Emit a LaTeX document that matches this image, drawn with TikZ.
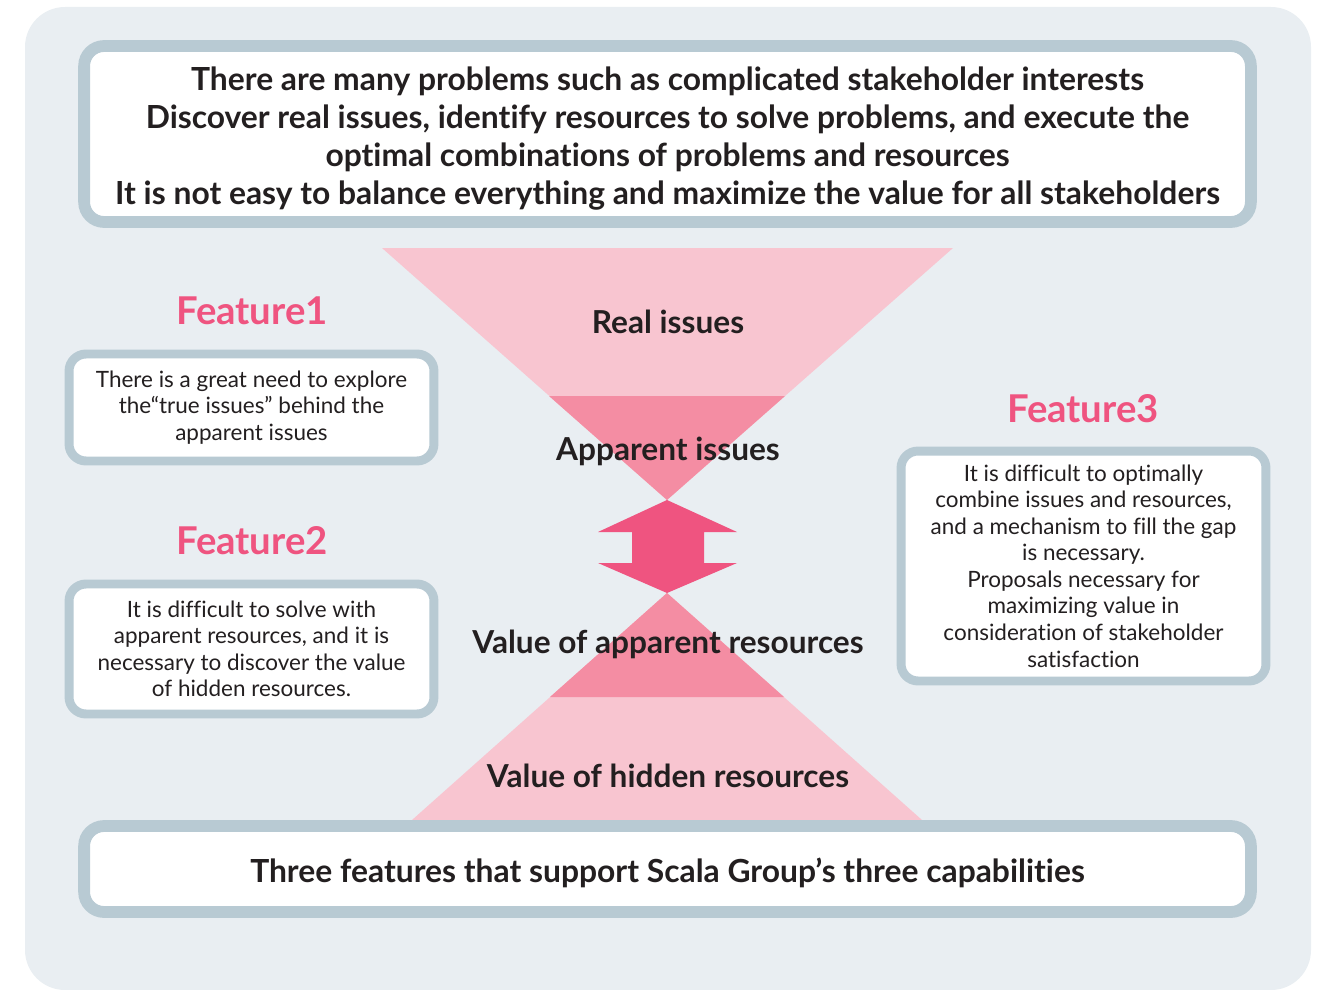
\documentclass[tikz,border=0pt]{standalone}
\usepackage{fontspec}
\setmainfont{Lato}[Ligatures=NoCommon]
\definecolor{panel}{HTML}{E9EEF2}
\definecolor{frame}{HTML}{B8CAD3}
\definecolor{pinklight}{HTML}{F8C5D0}
\definecolor{pinkmid}{HTML}{F48DA3}
\definecolor{rose}{HTML}{EF5480}
\definecolor{ink}{HTML}{231F20}

\begin{document}
\begin{tikzpicture}[x=0.02cm, y=-0.02cm,
    bigbox/.style ={draw=frame, line width=6.7pt, fill=white, rounded corners=0.4cm,
      minimum width=23.34cm},
    bigtext/.style ={text=ink, align=center,
      font=\bfseries\fontsize{18.1}{21.6}\selectfont},
    featurebox/.style ={draw=frame, line width=5.1pt, fill=white, rounded corners=0.34cm,
      minimum width=7.3cm, text=ink, align=center, inner sep=0pt,
      font=\fontsize{12.8}{15.1}\selectfont},
    featuretitle/.style ={text=rose, font=\bfseries\fontsize{21.8}{26}\selectfont},
    layer/.style ={text=ink, font=\bfseries\fontsize{18}{21}\selectfont}]
   \useasboundingbox (0,0) rectangle (1319,990);
   \fill[panel, rounded corners=0.8cm] (25,7) rectangle (1311,990);
   % funnel
   \coordinate (tl) at (382,248);
   \coordinate (tr) at (953,248);
   \coordinate (mid) at (667,500);
   \coordinate (low) at (667,593);
   \coordinate (bl) at (412,820);
   \coordinate (br) at (922,820);
   \fill[pinklight] (tl) -- (tr) -- (mid) -- cycle;
   \fill[pinkmid] (549,396) -- (785,396) -- (mid) -- cycle;
   \fill[pinklight] (low) -- (br) -- (bl) -- cycle;
   \fill[pinkmid] (low) -- (784,697) -- (550,697) -- cycle;
   \fill[rose] (mid) -- (737,532) -- (704,532) -- (704,563) -- (737,563) -- (low)
      -- (598,563) -- (632,563) -- (632,532) -- (598,532) -- cycle;
   \node[layer] (real) at (668,322) {Real issues};
   \node[layer] (apparent) at (668,451) {Apparent issues};
   \node[layer] (valapp) at (668,644) {Value of apparent resources};
   \node[layer] (valhid) at (668,776) {Value of hidden resources};
   % boxes
   \node[bigbox, minimum height=3.52cm] (head) at (667.5,134) {};
   \node[bigtext] (headtxt) at (667.5,138.5)
      {There are many problems such as complicated stakeholder interests\\
       Discover real issues, identify resources to solve problems, and execute the\\
       optimal combinations of problems and resources\\
       It is not easy to balance everything and maximize the value for all stakeholders};
   \node[bigbox, minimum height=1.72cm] (foot) at (667.5,869) {};
   \node[bigtext] (foottxt) at (667.5,872.5)
      {Three features that support Scala Group’s three capabilities};
   \node[featuretitle] (t1) at (252,311) {Feature1};
   \node[featurebox, minimum height=2.14cm] (f1) at (251.5,407.5)
      {There is a great need to explore\\ the“true issues” behind the\\ apparent issues};
   \node[featuretitle] (t2) at (252,541) {Feature2};
   \node[featurebox, minimum height=2.6cm] (f2) at (251.5,649)
      {It is difficult to solve with\\ apparent resources, and it is\\
       necessary to discover the value\\ of hidden resources.};
   \node[featuretitle] (t3) at (1083,409) {Feature3};
   \node[featurebox, minimum height=4.6cm] (f3) at (1083.5,566)
      {It is difficult to optimally\\ combine issues and resources,\\
       and a mechanism to fill the gap\\ is necessary.\\ Proposals necessary for\\
       maximizing value in\\ consideration of stakeholder\\ satisfaction};
 \end{tikzpicture}
\end{document}
